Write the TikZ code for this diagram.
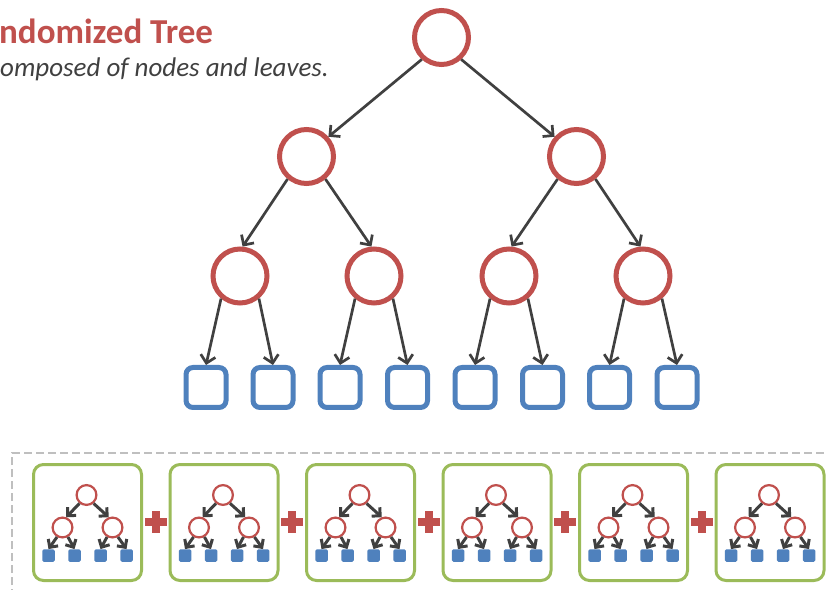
\documentclass[tikz,border=0pt]{standalone}
\usepackage{fontspec}
\setmainfont{Carlito}
\usetikzlibrary{arrows.meta}
\definecolor{nodered}{HTML}{C0504D}
\definecolor{leafblue}{HTML}{4F81BD}
\definecolor{boxgreen}{HTML}{9BBB59}
\definecolor{edgegray}{HTML}{404040}
\definecolor{framegray}{HTML}{BFBFBF}
\definecolor{textgray}{HTML}{404040}
\begin{document}
\begin{tikzpicture}[x=1pt,y=1pt,
  inner/.style={circle, draw=nodered, line width=5pt, minimum size=54pt, inner sep=0pt, fill=white},
  leaf/.style={rectangle, rounded corners=7pt, draw=leafblue, line width=5pt, minimum size=40pt, inner sep=0pt, fill=white},
  edge/.style={draw=edgegray, line width=2.7pt, -{Straight Barb[length=7.5pt,width=15pt]}},
  minibox/.style={rectangle, rounded corners=10pt, draw=boxgreen, line width=3pt, minimum width=108pt, minimum height=116pt, inner sep=0pt, fill=white},
  mininode/.style={circle, draw=nodered, line width=2.2pt, minimum size=19.8pt, inner sep=0pt, fill=white},
  minileaf/.style={rectangle, rounded corners=1.5pt, fill=leafblue, minimum size=12.5pt, inner sep=0pt},
  miniedge/.style={draw=edgegray, line width=3pt, -{Straight Barb[length=6pt,width=12pt]}},
  title/.style={anchor=base west, inner sep=0pt, text=nodered, font=\bfseries\fontsize{35}{40}\selectfont},
  subtitle/.style={anchor=base west, inner sep=0pt, text=textgray, font=\itshape\fontsize{27}{32}\selectfont}
]
\clip (0,0) rectangle (826,589);

% heading
\node[title] (head) at (-1,545) {ndomized Tree};
\node[subtitle] (sub) at (0,512) {omposed of nodes and leaves.};

% large tree
\node[inner] (r) at (441.5,551.5) {};
\node[inner] (a) at (306.5,432.5) {};
\node[inner] (b) at (576.5,432.5) {};
\node[inner] (c1) at (240,313) {};
\node[inner] (c2) at (374,313) {};
\node[inner] (c3) at (509,313) {};
\node[inner] (c4) at (643,313) {};
\foreach \i/\x in {1/206,2/273,3/340,4/407.5,5/475,6/542.5,7/609.5,8/677}
  \node[leaf] (f\i) at (\x,201.5) {};

\draw[edge] (r.-132) -- (a.42);
\draw[edge] (r.-48) -- (b.138);
\draw[edge] (a.-130) -- (c1.85);
\draw[edge] (a.-50) -- (c2.95);
\draw[edge] (b.-130) -- (c3.85);
\draw[edge] (b.-50) -- (c4.95);
\draw[edge] (c1.-130) -- (f1.north);
\draw[edge] (c1.-50) -- (f2.north);
\draw[edge] (c2.-130) -- (f3.north);
\draw[edge] (c2.-50) -- (f4.north);
\draw[edge] (c3.-130) -- (f5.north);
\draw[edge] (c3.-50) -- (f6.north);
\draw[edge] (c4.-130) -- (f7.north);
\draw[edge] (c4.-50) -- (f8.north);

% ensemble frame
\draw[framegray, line width=2pt, dash pattern=on 8pt off 4pt] (12,-20) -- (12,136) -- (840,136);

% ensemble of small trees
\foreach \k in {0,...,5}{
  \pgfmathsetmacro{\cx}{87.5+136.5*\k}
  \node[minibox] (box\k) at (\cx,66.5) {};
  \node[mininode] (t\k) at (\cx-1,94) {};
  \node[mininode] (l\k) at (\cx-25,61.5) {};
  \node[mininode] (r\k) at (\cx+25,61.5) {};
  \node[minileaf] (la\k) at (\cx-39,33.5) {};
  \node[minileaf] (lb\k) at (\cx-13,33.5) {};
  \node[minileaf] (lc\k) at (\cx+13,33.5) {};
  \node[minileaf] (ld\k) at (\cx+39,33.5) {};
  \draw[miniedge] (t\k.-130) -- (l\k.70);
  \draw[miniedge] (t\k.-50) -- (r\k.110);
  \draw[miniedge] (l\k.-120) -- (la\k.north);
  \draw[miniedge] (l\k.-60) -- (lb\k.north);
  \draw[miniedge] (r\k.-120) -- (lc\k.north);
  \draw[miniedge] (r\k.-60) -- (ld\k.north);
}

% plus signs between the small trees
\foreach \k in {0,...,4}{
  \pgfmathsetmacro{\px}{155.75+136.5*\k}
  \fill[nodered] (\px-11,63) rectangle (\px+11,71);
  \fill[nodered] (\px-4,56) rectangle (\px+4,78);
}
\end{tikzpicture}
\end{document}
